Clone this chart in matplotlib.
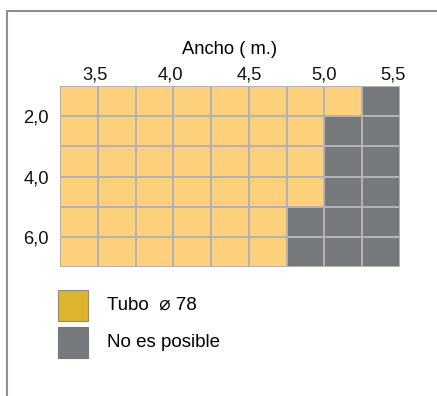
import matplotlib.pyplot as plt
import numpy as np
from matplotlib.colors import ListedColormap
from matplotlib.patches import Rectangle
from matplotlib.lines import Line2D
from matplotlib.transforms import ScaledTranslation

plt.rcParams['font.family'] = ['Liberation Sans', 'DejaVu Sans']

# cell edges: width (m) along x, length (m) along y
ancho_edges = [3.25, 3.5, 3.75, 4.0, 4.25, 4.5, 4.75, 5.0, 5.25, 5.5]
largo_edges = [1.0, 2.0, 3.0, 4.0, 5.0, 6.0, 7.0]

# 0 = Tubo 78, 1 = no es posible (one row per length band)
cells = [
    [0, 0, 0, 0, 0, 0, 0, 0, 1],
    [0, 0, 0, 0, 0, 0, 0, 1, 1],
    [0, 0, 0, 0, 0, 0, 0, 1, 1],
    [0, 0, 0, 0, 0, 0, 0, 1, 1],
    [0, 0, 0, 0, 0, 0, 1, 1, 1],
    [0, 0, 0, 0, 0, 0, 1, 1, 1],
]

x_ticks = [3.5, 4.0, 4.5, 5.0, 5.5]
x_labels = ['3,5', '4,0', '4,5', '5,0', '5,5']
y_ticks = [2.0, 4.0, 6.0]
y_labels = ['2,0', '4,0', '6,0']

legend_labels = ['Tubo  \u2300 78', 'No es posible']

cell_colors = ['#FDD17B', '#76797B']
legend_colors = ['#DFB52F', '#76797B']

W, H = 437, 396
fig = plt.figure(figsize=(W / 100, H / 100), dpi=100)
ax = fig.add_axes([60 / W, 1 - 267 / H, 340 / W, 181 / H])

ax.pcolormesh(ancho_edges, largo_edges, np.array(cells),
              cmap=ListedColormap(cell_colors), vmin=0, vmax=1,
              edgecolor='#B3B3B3', linewidth=1.2)
ax.set_xlim(ancho_edges[0], ancho_edges[-1])
ax.set_ylim(largo_edges[-1], largo_edges[0])

ax.xaxis.tick_top()
ax.xaxis.set_label_position('top')
ax.set_xticks(x_ticks, x_labels)
ax.set_yticks(y_ticks, y_labels)
ax.tick_params(length=0, labelsize=13.2, colors='#111111')
ax.tick_params(axis='x', pad=1.5)
ax.tick_params(axis='y', pad=8)
ax.set_xlabel('Ancho ( m.)', fontsize=13.2, labelpad=9)
for s in ax.spines.values():
    s.set_visible(False)

# nudge top labels a little left, as in the original
fig.canvas.draw()
for tick, dx in zip(ax.xaxis.get_major_ticks(), [-3, -3, 0, 0, -7]):
    lab = tick.label2
    lab.set_transform(lab.get_transform() + ScaledTranslation(dx / 100, 0, fig.dpi_scale_trans))

# legend
for i, (lab, col) in enumerate(zip(legend_labels, legend_colors)):
    y0 = 1 - (321 + i * 37) / H
    edge = '#8A8A8A' if i == 0 else col
    fig.add_artist(Rectangle((58 / W, y0), 30 / W, 31 / H, transform=fig.transFigure,
                             facecolor=col, edgecolor=edge, linewidth=0.8))
    fig.text(107 / W, y0 + 15.5 / H, lab, fontsize=13.5, va='center', ha='left')

# frame around the panel
fig.add_artist(Line2D([6.5 / W, 6.5 / W, 1], [0, 1 - 11 / H, 1 - 11 / H],
                      transform=fig.transFigure, color='#8C9094', linewidth=1.5))

fig.savefig('out.png', dpi=100)
